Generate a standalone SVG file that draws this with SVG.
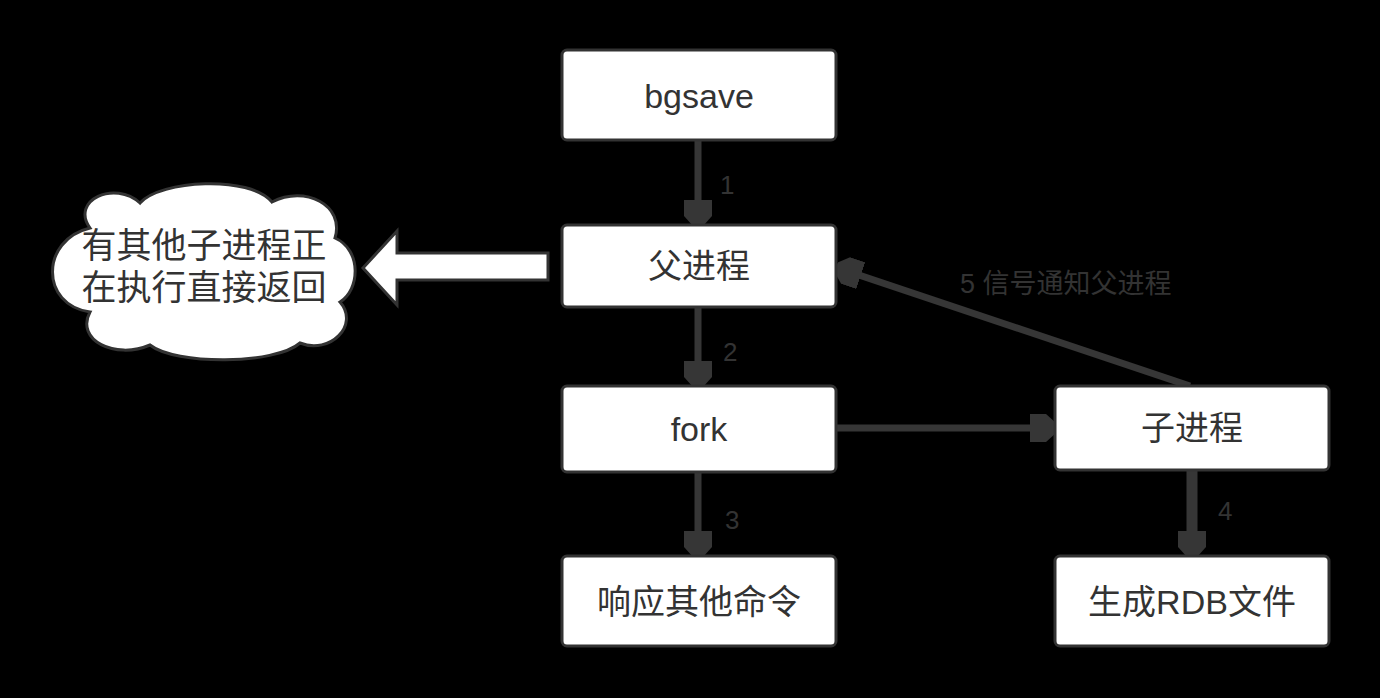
<svg xmlns="http://www.w3.org/2000/svg" width="1380" height="698" viewBox="0 0 1380 698">
<defs>
<style>
.box{fill:#ffffff;stroke:#333333;stroke-width:3}
.t{font-family:"Liberation Sans","Noto Sans CJK SC",sans-serif;font-size:34px;fill:#333333;text-anchor:middle}
.lbl{font-family:"Liberation Sans","Noto Sans CJK SC",sans-serif;font-size:26px;fill:#333333}
.edge{stroke:#363636;stroke-width:7;fill:none}
</style>
<marker id="ah" viewBox="0 0 26 28" refX="24" refY="14" markerWidth="26" markerHeight="28" markerUnits="userSpaceOnUse" orient="auto">
<path d="M0,0 L16,0 L26,9 L26,19 L16,28 L0,28 Z" fill="#363636"/>
</marker>
</defs>
<rect width="1380" height="698" fill="#000000"/>
<g id="connectors">
<line class="edge" x1="698" y1="140" x2="698" y2="224" marker-end="url(#ah)"/>
<line class="edge" x1="698" y1="307" x2="698" y2="385" marker-end="url(#ah)"/>
<line class="edge" x1="698" y1="472" x2="698" y2="555" marker-end="url(#ah)"/>
<line class="edge" x1="1192" y1="470" x2="1192" y2="555" style="stroke-width:11" marker-end="url(#ah)"/>
<line class="edge" x1="836" y1="428" x2="1054" y2="428" marker-end="url(#ah)"/>
<line class="edge" x1="1190" y1="386" x2="838" y2="268" marker-end="url(#ah)"/>
<text class="lbl" x="720" y="194">1</text>
<text class="lbl" x="723" y="361">2</text>
<text class="lbl" x="725" y="529">3</text>
<text class="lbl" x="1218" y="520">4</text>
<text class="lbl" x="960" y="293" style="font-size:27px">5 信号通知父进程</text>
</g>
<g id="n-bgsave">
<rect class="box" x="562" y="50" width="274" height="90" rx="5"/>
<text class="t" x="699" y="108">bgsave</text>
</g>
<g id="n-parent">
<rect class="box" x="562" y="225" width="274" height="82" rx="5"/>
<text class="t" x="699" y="278">父进程</text>
</g>
<g id="n-fork">
<rect class="box" x="562" y="386" width="274" height="86" rx="5"/>
<text class="t" x="699" y="441">fork</text>
</g>
<g id="n-respond">
<rect class="box" x="562" y="556" width="274" height="90" rx="5"/>
<text class="t" x="699" y="614">响应其他命令</text>
</g>
<g id="n-child">
<rect class="box" x="1055" y="386" width="274" height="84" rx="5"/>
<text class="t" x="1192" y="440">子进程</text>
</g>
<g id="n-rdb">
<rect class="box" x="1055" y="556" width="274" height="90" rx="5"/>
<text class="t" x="1192" y="614">生成RDB文件</text>
</g>
<g id="n-arrow">
<path d="M548,253 L397,253 L397,231 L363,268 L397,305 L397,280 L548,280 Z" fill="#ffffff" stroke="#333333" stroke-width="3"/>
</g>
<g id="n-cloud">
<path d="M90,228 C70,200 115,180 140,203 C160,180 250,175 272,202 C305,185 345,205 335,238 C362,250 360,290 340,302 C360,325 330,355 300,343 C275,365 175,365 150,345 C115,360 75,340 90,312 C40,305 40,240 90,228 Z" fill="#ffffff" stroke="#333333" stroke-width="3"/>
<text class="t" x="204" y="258" style="font-size:35px">有其他子进程正</text>
<text class="t" x="204" y="300" style="font-size:35px">在执行直接返回</text>
</g>
</svg>
